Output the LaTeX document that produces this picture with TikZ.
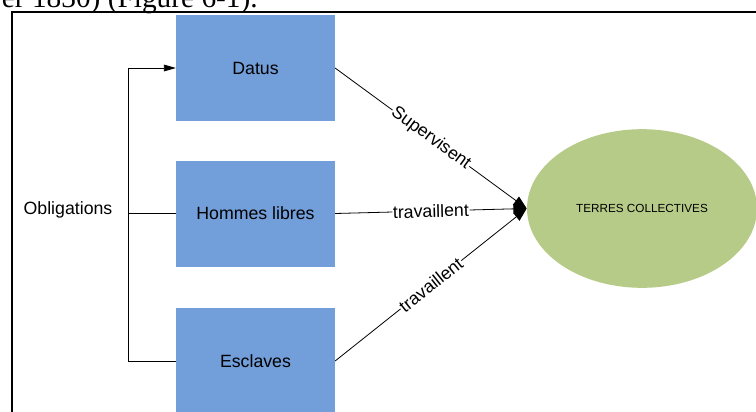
\documentclass[tikz,border=0pt]{standalone}
\usepackage{fontspec}
\setmainfont{Liberation Sans}
\newfontfamily\textserif{Liberation Serif}
\usetikzlibrary{shapes.geometric,arrows.meta,positioning}
\definecolor{boxblue}{RGB}{114,158,218}
\definecolor{terregreen}{RGB}{183,203,136}

\begin{document}
\begin{tikzpicture}[
        x=0.75pt, y=-0.75pt,
        >={Triangle[length=9pt,width=5pt]},
        % Styles des formes
        groupe/.style={rectangle, fill=boxblue, text centered, align=center, minimum width=119pt, minimum height=79.5pt, font=\fontsize{13.3}{16}\selectfont},
        terre/.style={ellipse, fill=terregreen, text centered, minimum width=172.5pt, minimum height=119pt, inner sep=0pt, font=\fontsize{8.8}{10}\selectfont},
        lien/.style={sloped, fill=white, inner sep=0.5pt, font=\fontsize{13.3}{16}\selectfont},
        fleche/.style={-{Triangle[length=10pt,width=7.5pt]}, line width=0.6pt}
    ]
        \clip (0,0) rectangle (756,411);

        % Cadre et legende
        \draw[line width=1.2pt] (12,12) rectangle (790,450);
        \node[anchor=base east, inner sep=0pt, font=\textserif\fontsize{22}{26}\selectfont] (legende) at (258,7) {er 1830) (Figure 6-1).};

        % Noeuds
        \node[groupe] (datus) at (255.5,68) {Datus};
        \node[groupe] (libres) at (255.5,213.5) {Hommes libres};
        \node[groupe] (esclaves) at (255.5,361) {Esclaves};
        \node[terre] (terres) at (642,208.5) {TERRES COLLECTIVES};
        \node[font=\fontsize{13.3}{16}\selectfont] (oblig) at (68,210) {Obligations};
        \coordinate (bus) at (128,0);

        % Obligations
        \draw[->, line width=0.6pt] (esclaves.west) -- (esclaves.west -| bus) |- (datus.west);
        \draw[line width=0.6pt] (libres.west) -- (libres.west -| bus);

        % Fleches vers les terres
        \draw[fleche] (datus.east) -- node[lien] {Supervisent} (terres.west);
        \draw[fleche] (libres.east) -- node[lien] {travaillent} (terres.west);
        \draw[fleche] (esclaves.east) -- node[lien] {travaillent} (terres.west);

    \end{tikzpicture}
\end{document}
